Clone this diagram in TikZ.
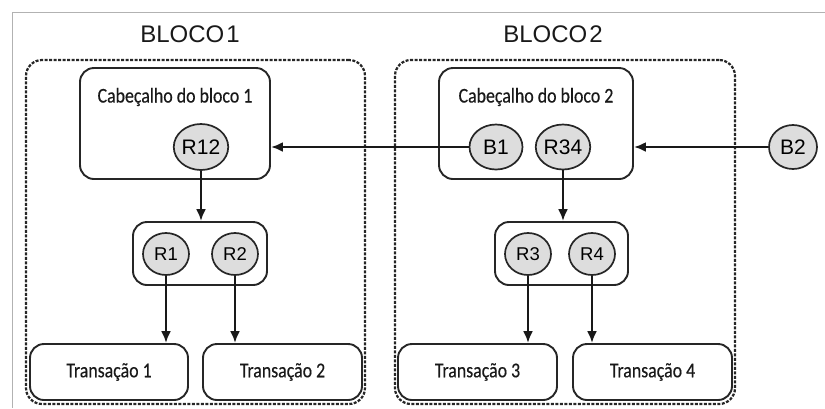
\documentclass[tikz,border=0pt]{standalone}
\usepackage{fontspec}
\setmainfont{Liberation Sans}
\newfontfamily\condf{Carlito}[FakeStretch=0.85,FakeBold=0.4]
\usetikzlibrary{arrows.meta,shapes.geometric}
\begin{document}
\begin{tikzpicture}[x=1pt,y=-1pt,
  frame/.style={draw=gray!60, line width=1.4pt},
  blockbox/.style={draw=black!85, dash pattern=on 3pt off 1.5pt, line width=2.2pt, rounded corners=16pt, minimum width=339pt, minimum height=344pt, inner sep=0pt},
  roundbox/.style={draw=black!85, line width=1.9pt, rounded corners=14pt, inner sep=0pt},
  hdrtext/.style={font=\condf\fontsize{21}{21}\selectfont, inner sep=0pt, text=black!90},
  trans/.style={roundbox, minimum width=158pt, minimum height=56pt, font=\condf\fontsize{21}{21}\selectfont, text=black!90},
  oval/.style={ellipse, draw=black!85, line width=1.7pt, fill=gray!27, inner sep=0pt, minimum width=53pt, minimum height=45pt, font=\fontsize{21}{21}\selectfont},
  smalloval/.style={oval, minimum width=46pt, minimum height=42pt, font=\fontsize{18.5}{18.5}\selectfont},
  title/.style={font=\fontsize{24}{24}\selectfont, inner sep=0pt, text=black!90},
  arr/.style={draw=black!90, line width=2.7pt, -{Latex[length=12pt,width=10pt]}}
]
\useasboundingbox (0,0) rectangle (825,408);
% frame
\draw[frame] (825,12.5) -- (12.5,12.5) -- (12.5,408);
% titles
\node[title] (t1title) at (190,34) {BLOCO\hspace{2pt}1};
\node[title] (t2title) at (553,34) {BLOCO\hspace{2pt}2};
% dashed blocks
\node[blockbox] (blk1) at (195.5,232) {};
\node[blockbox, minimum width=340pt] (blk2) at (565,232) {};
% headers
\node[roundbox, minimum width=190pt, minimum height=111pt] (hdr1) at (175,123.5) {};
\node[roundbox, minimum width=194pt, minimum height=111pt] (hdr2) at (536,123.5) {};
\node[hdrtext] (h1txt) at (175,97) {Cabeçalho do bloco 1};
\node[hdrtext] (h2txt) at (536,97) {Cabeçalho do bloco 2};
% root boxes
\node[roundbox, minimum width=134pt, minimum height=63pt] (rb1) at (200,253.5) {};
\node[roundbox, minimum width=133pt, minimum height=63pt] (rb2) at (561.5,253.5) {};
% transactions
\node[trans] (tr1) at (109,372) {Transação 1};
\node[trans, minimum width=159pt] (tr2) at (282.5,372) {Transação 2};
\node[trans, minimum width=159pt] (tr3) at (477.5,372) {Transação 3};
\node[trans, minimum width=159pt] (tr4) at (652.5,372) {Transação 4};
% ovals
\node[oval, minimum width=54pt, minimum height=46pt] (r12) at (201,147) {R12};
\node[oval] (b1) at (496,147) {B1};
\node[oval, minimum width=52pt] (r34) at (563,147) {R34};
\node[oval, minimum width=48pt, minimum height=44pt] (b2) at (793,147) {B2};
\node[smalloval] (r1) at (166,254) {R1};
\node[smalloval] (r2) at (235,254) {R2};
\node[smalloval] (r3) at (528,254) {R3};
\node[smalloval] (r4) at (592,254) {R4};
% arrows
\draw[arr] (b1.west) -- (b1.west -| hdr1.east);
\draw[arr] (b2.west) -- (b2.west -| hdr2.east);
\draw[arr] (r12.south) -- (r12.south |- rb1.north);
\draw[arr] (r34.south) -- (r34.south |- rb2.north);
\draw[arr] (r1.south) -- (r1.south |- tr1.north);
\draw[arr] (r2.south) -- (r2.south |- tr2.north);
\draw[arr] (r3.south) -- (r3.south |- tr3.north);
\draw[arr] (r4.south) -- (r4.south |- tr4.north);
\end{tikzpicture}
\end{document}
